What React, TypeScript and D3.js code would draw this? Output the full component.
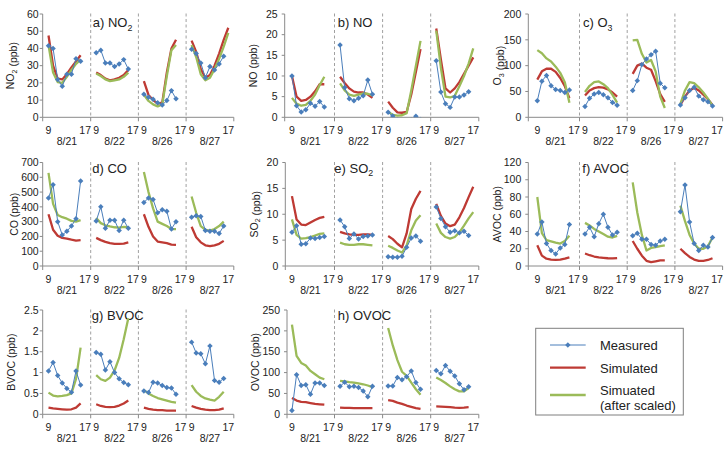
import React from "react";
import * as d3 from "d3";

const days = ["8/21", "8/22", "8/26", "8/27"];
const startHour = 9;
const hourTicks = [9, 17];

// NO2 (ppb), one row per day, hourly from 9:00
const no2Measured = [
  [41.5, 40, 22, 18, 25, 25, 34, 32.5],
  [37.5, 39, 31.5, 31.5, 29.5, 31, 33.5, 28],
  [13.4, 11.6, 10.5, 8.5, 7.2, 9.7, 15.5, 10.8],
  [39.5, 37, 31.5, 23, 29.5, 27.5, 31, 35.5],
];
const no2Simulated = [
  [47.5, 30, 22.5, 22, 25, 29, 32.5, 36],
  [26, 24.5, 22.5, 21.5, 22, 23, 24.5, 27.5],
  [21, 13, 10, 8, 8.5, 26, 40, 45],
  [44.5, 38, 28, 23, 24.5, 30, 37, 45, 52],
];
const no2Scaled = [
  [42, 26, 20.5, 20, 23.5, 27.5, 31, 33.5],
  [25.5, 24, 22, 21, 21.5, 22, 23.5, 26],
  [13, 9.5, 7.5, 6.3, 7.5, 24, 39, 42],
  [42, 35, 25, 21.5, 23, 28, 34, 41, 49],
];

// NO (ppb)
const noMeasured = [
  [10, 2.8, 1.3, 1.8, 3.4, 2.7, 3.8, 2.5],
  [17.5, 7.2, 4.5, 4, 4.6, 5.2, 9, 5.6],
  [1.2, 0.3, -0.6, -0.8, -0.8, -0.6, 0.25, -0.5],
  [13.7, 6.1, 3.3, 2.4, 4.9, 4.9, 5.4, 6.2],
];
const noSimulated = [
  [10, 5, 4, 4.2, 5, 6.3, 8, 8],
  [9.8, 8.3, 7, 6.2, 6, 6, 5.5, 4.7],
  [3.8, 2.3, 1.2, 1.1, 1.3, 5.5, 11, 16.5],
  [21.5, 14, 7, 6, 7, 8.5, 10.5, 12.5, 14.5],
];
const noScaled = [
  [4.7, 3.3, 2.8, 3, 4, 5.5, 7.8, 9.8],
  [8.2, 6.5, 5.5, 5.2, 5.5, 5.8, 5.7, 5.3],
  [1.3, 0.6, 0.4, 0.5, 1, 6.5, 12.5, 18.5],
  [21, 12, 5, 4.8, 5.2, 7.5, 10, 13, 16.7],
];

// O3 (ppb)
const o3Measured = [
  [32, 70, 81, 61, 54, 52, 48, 53],
  [21, 37, 45, 48, 43.5, 38, 28.5, 23.5],
  [52, 71, 102, 113, 121, 128, 66, 57],
  [24, 38, 52, 58, 41, 34, 30, 22],
];
const o3Simulated = [
  [73, 89, 94, 94, 88, 76, 60, 37],
  [42, 52, 56.5, 58.5, 57.5, 54, 48, 40],
  [84, 100, 104, 96, 92, 70, 45, 30],
  [24, 40, 52, 57, 52, 44, 35, 24],
];
const o3Scaled = [
  [130, 124, 114, 108, 98, 86, 68, 28],
  [49, 61, 68, 69.5, 64, 56.5, 43.5, 28.5],
  [149, 150, 123, 106, 111, 89, 40, 18],
  [26, 52, 68, 66, 58, 48, 36, 22],
];

// CO (ppb)
const coMeasured = [
  [460, 550, 300, 210, 235, 270, 320, 575],
  [305, 400, 255, 310, 310, 240, 310, 255],
  [430, 460, 450, 360, 380, 370, 250, 300],
  [330, 340, 335, 240, 235, 235, 220, 270],
];
const coSimulated = [
  [350, 245, 205, 190, 185, 178, 172, 175],
  [190, 175, 163, 155, 150, 150, 152, 160],
  [350, 265, 200, 165, 160, 155, 145, 143],
  [265, 195, 160, 140, 135, 140, 150, 170],
];
const coScaled = [
  [630, 420, 345, 330, 320, 305, 300, 310],
  [325, 290, 275, 268, 262, 260, 265, 262],
  [635, 500, 390, 300, 285, 270, 250, 250],
  [470, 360, 270, 245, 240, 250, 270, 300],
];

// SO2 (ppb)
const so2Measured = [
  [6.5, 7.8, 4.2, 4.3, 5.4, 5.3, 5.5, 5.7],
  [8.9, 7.6, 5.3, 6.2, 5.2, 5.7, 5.8, 6.0],
  [1.8, 1.7, 1.7, 1.9, 3.6, 5.4, 5.8, 4.8],
  [11.4, 9.2, 7.6, 6.5, 6.8, 6.4, 6.7, 5.9],
];
const so2Simulated = [
  [13.5, 9, 8, 7.9, 8.4, 8.9, 9.3, 9.5],
  [6.6, 6.3, 6.1, 6.0, 6.0, 6.1, 6.1, 6.0],
  [5.8, 5.2, 4.3, 3.6, 6.3, 11, 13, 14.5],
  [12, 9.7, 8.2, 7.7, 8, 9.4, 11.2, 13.3, 15.3],
];
const so2Scaled = [
  [9, 6, 5.3, 5.4, 5.6, 5.9, 6.2, 6.3],
  [4.5, 4.2, 4.1, 4.1, 4.2, 4.2, 4.1, 4.0],
  [3.9, 3.5, 3.0, 2.6, 4.0, 6.9, 8.8, 9.8],
  [8.2, 6.4, 5.6, 5.3, 5.6, 6.5, 7.8, 9.2, 10.4],
];

// AVOC (ppb)
const avocMeasured = [
  [37, 51, 26, 18, 14, 21, 25, 48],
  [37, 45, 34, 49, 60, 45, 36, 39],
  [35, 38, 31, 31, 25, 24, 29, 31],
  [63, 94, 51, 26, 18, 24, 22, 33],
];
const avocSimulated = [
  [24, 12, 8.5, 7.5, 7, 7.5, 8.5, 10],
  [14.5, 12.5, 11, 10, 9.5, 9, 8.8, 9.2],
  [29, 20, 12, 6, 4.5, 5.5, 6.5, 6.5],
  [20, 15, 10.5, 7.5, 6, 6, 7, 9],
];
const avocScaled = [
  [80, 38, 30, 28.5, 27, 26, 29, 35],
  [50, 47, 43, 40, 37, 34, 33, 35],
  [97, 62, 36, 18, 21, 22, 23, 24],
  [70, 52, 36, 26, 20, 20, 23, 33],
];

// BVOC (ppb)
const bvocMeasured = [
  [1.04, 1.24, 0.93, 0.75, 0.62, 0.53, 1.04, 0.7],
  [1.48, 1.44, 1.06, 1.26, 1.0, 0.85, 0.76, 0.71],
  [0.56, 0.52, 0.77, 0.75, 0.69, 0.64, 0.63, 0.48],
  [1.73, 1.47, 1.45, 1.21, 1.64, 0.81, 0.77, 0.86],
];
const bvocSimulated = [
  [0.16, 0.14, 0.13, 0.12, 0.11, 0.12, 0.16, 0.26],
  [0.24, 0.2, 0.18, 0.17, 0.18, 0.21, 0.26, 0.33],
  [0.16, 0.13, 0.11, 0.1, 0.1, 0.09, 0.09, 0.09],
  [0.2, 0.16, 0.13, 0.11, 0.1, 0.1, 0.11, 0.14],
];
const bvocScaled = [
  [0.52, 0.45, 0.43, 0.44, 0.46, 0.5, 0.85, 1.6],
  [0.94, 0.84, 0.8, 0.88, 1.05, 1.35, 1.8, 2.3],
  [0.58, 0.5, 0.44, 0.39, 0.36, 0.33, 0.3, 0.28],
  [0.7, 0.54, 0.44, 0.38, 0.35, 0.33, 0.42, 0.54],
];

// OVOC (ppb)
const ovocMeasured = [
  [9, 95, 69, 71, 48, 75, 75, 69],
  [67, 77, 66, 67, 64, 56, 42, 67],
  [68, 68, 88, 83, 90, 104, 76, 60],
  [105, 97, 117, 103, 92, 73, 59, 66],
];
const ovocSimulated = [
  [39, 33, 30, 29, 27, 25, 24, 23],
  [16, 15.5, 15.5, 15, 15, 15, 15, 15],
  [34, 32, 28, 25, 21, 18, 15, 13],
  [19, 18.5, 18, 17, 16, 15.5, 16, 17],
];
const ovocScaled = [
  [215, 140, 123, 117, 104, 96, 88, 84],
  [80, 79, 77, 76, 74, 72, 69, 65],
  [207, 165, 130, 102, 92, 76, 60, 47],
  [88, 82, 75, 67, 60, 55, 55, 63],
];

const legendLabels = ["Measured", "Simulated", "Simuated", "(after scaled)"];

const BLUE = "#4a7ebb";
const RED = "#be3a34";
const GREEN = "#9bbb59";
const AXIS = "#8a8a8a";
const INK = "#222";
const FONT = "'Liberation Sans', Arial, sans-serif";

const ROWS = [
  { top: 14, bottom: 117.3, titleY: 27 },
  { top: 162.5, bottom: 266, titleY: 172.5 },
  { top: 310, bottom: 414.3, titleY: 320 },
];
const COLS = [
  { dash1: 90.7, w: 47.7, tickPad: 4 },
  { dash1: 334.5, w: 48.1, tickPad: 7 },
  { dash1: 579.5, w: 47.7, tickPad: 7 },
];

type Panel = {
  tag: string;
  gas: string;
  sub?: string;
  max: number;
  step: number;
  measured: number[][];
  simulated: number[][];
  scaled: number[][];
  row: number;
  col: number;
  axisX: number;
  titleX: number;
  labelX: number;
};

const panels: Panel[] = [
  { tag: "a", gas: "NO", sub: "2", max: 60, step: 10, measured: no2Measured, simulated: no2Simulated, scaled: no2Scaled, row: 0, col: 0, axisX: 42.7, titleX: 92.7, labelX: 14 },
  { tag: "b", gas: "NO", max: 25, step: 5, measured: noMeasured, simulated: noSimulated, scaled: noScaled, row: 0, col: 1, axisX: 284.7, titleX: 337.7, labelX: 257 },
  { tag: "c", gas: "O", sub: "3", max: 200, step: 50, measured: o3Measured, simulated: o3Simulated, scaled: o3Scaled, row: 0, col: 2, axisX: 528.3, titleX: 583, labelX: 501 },
  { tag: "d", gas: "CO", max: 700, step: 100, measured: coMeasured, simulated: coSimulated, scaled: coScaled, row: 1, col: 0, axisX: 42.7, titleX: 92.3, labelX: 18 },
  { tag: "e", gas: "SO", sub: "2", max: 20, step: 5, measured: so2Measured, simulated: so2Simulated, scaled: so2Scaled, row: 1, col: 1, axisX: 285.3, titleX: 334.3, labelX: 257.5 },
  { tag: "f", gas: "AVOC", max: 120, step: 20, measured: avocMeasured, simulated: avocSimulated, scaled: avocScaled, row: 1, col: 2, axisX: 528.3, titleX: 582.3, labelX: 501 },
  { tag: "g", gas: "BVOC", max: 2.5, step: 0.5, measured: bvocMeasured, simulated: bvocSimulated, scaled: bvocScaled, row: 2, col: 0, axisX: 42.7, titleX: 91.7, labelX: 15 },
  { tag: "h", gas: "OVOC", max: 250, step: 50, measured: ovocMeasured, simulated: ovocSimulated, scaled: ovocScaled, row: 2, col: 1, axisX: 287, titleX: 337.7, labelX: 258.5 },
];

const fmt = d3.format("~g");
const diamond = d3.symbol(d3.symbolSquare, 15)() as string;

function GasName({ gas, sub, size }: { gas: string; sub?: string; size: number }) {
  if (!sub) return <tspan>{gas}</tspan>;
  return (
    <>
      <tspan>{gas}</tspan>
      <tspan fontSize={size * 0.68} dy={size * 0.28}>{sub}</tspan>
      <tspan dy={-size * 0.28}>{""}</tspan>
    </>
  );
}

function PanelView({ p }: { p: Panel }) {
  const r = ROWS[p.row];
  const c = COLS[p.col];
  const y = d3.scaleLinear().domain([0, p.max]).range([r.bottom, r.top]);
  const segStart = days.map((_, i) => c.dash1 + (i - 1) * c.w);
  const xs = segStart.map((s) => d3.scaleLinear().domain([7.8, 18.2]).range([s, s + c.w]));
  const endX = segStart[3] + c.w;
  const ticks = d3.range(0, p.max + p.step / 2, p.step);
  const clipId = `clip-${p.tag}`;

  const path = (vals: number[], i: number) =>
    d3.line<number>().x((_, k) => xs[i](startHour + k)).y((v) => y(v))(vals) as string;

  const midY = (r.top + r.bottom) / 2;

  return (
    <g>
      <defs>
        <clipPath id={clipId}>
          <rect x={p.axisX} y={r.top - 10} width={endX - p.axisX + 6} height={r.bottom - r.top + 10} />
        </clipPath>
      </defs>

      {/* day separators */}
      {segStart.slice(1).map((x, i) => (
        <line key={i} x1={x} x2={x} y1={r.top - 0.5} y2={r.bottom} stroke="#a0a0a0" strokeWidth={1} strokeDasharray="3,2.5" />
      ))}

      {/* y axis */}
      <line x1={p.axisX} x2={p.axisX} y1={r.top} y2={r.bottom} stroke={AXIS} />
      {ticks.map((t) => (
        <g key={t}>
          <line x1={p.axisX - 3} x2={p.axisX} y1={y(t)} y2={y(t)} stroke={AXIS} />
          <text x={p.axisX - c.tickPad} y={y(t)} dy="0.35em" textAnchor="end" fontSize={10.5} fill={INK}>
            {fmt(t)}
          </text>
        </g>
      ))}

      {/* x axis */}
      <line x1={p.axisX} x2={endX} y1={r.bottom} y2={r.bottom} stroke={AXIS} />
      {[p.axisX, ...segStart.slice(1), endX].map((x, i) => (
        <line key={i} x1={x} x2={x} y1={r.bottom} y2={r.bottom + 4} stroke={AXIS} />
      ))}
      {days.map((d, i) => (
        <g key={d}>
          {hourTicks.map((h) => (
            <text key={h} x={xs[i](h)} y={r.bottom + 16.5} textAnchor="middle" fontSize={10.5} fill={INK}>
              {h}
            </text>
          ))}
          <text x={segStart[i] + c.w / 2} y={r.bottom + 27.5} textAnchor="middle" fontSize={10.5} fill={INK}>
            {d}
          </text>
        </g>
      ))}

      {/* axis title */}
      <text transform={`translate(${p.labelX},${midY}) rotate(-90)`} textAnchor="middle" fontSize={10.5} fill={INK}>
        <GasName gas={p.gas} sub={p.sub} size={10.5} />
        <tspan> (ppb)</tspan>
      </text>

      {/* panel title */}
      <text x={p.titleX} y={r.titleY} fontSize={13} fill={INK}>
        <tspan>{p.tag}) </tspan>
        <GasName gas={p.gas} sub={p.sub} size={13} />
      </text>

      <g clipPath={`url(#${clipId})`}>
        {p.simulated.map((vals, i) => (
          <path key={`s${i}`} d={path(vals, i)} fill="none" stroke={RED} strokeWidth={2.3} strokeLinejoin="round" />
        ))}
        {p.scaled.map((vals, i) => (
          <path key={`g${i}`} d={path(vals, i)} fill="none" stroke={GREEN} strokeWidth={2.3} strokeLinejoin="round" />
        ))}
        {p.measured.map((vals, i) => (
          <g key={`m${i}`}>
            <path d={path(vals, i)} fill="none" stroke={BLUE} strokeWidth={1} />
            {vals.map((v, k) => (
              <path
                key={k}
                d={diamond}
                transform={`translate(${xs[i](startHour + k)},${y(v)}) rotate(45)`}
                fill={BLUE}
              />
            ))}
          </g>
        ))}
      </g>
    </g>
  );
}

function Legend() {
  const box = { x: 535.7, y: 328.3, w: 147.6, h: 86.7 };
  const lineX = [550, 585.7];
  const textX = 600;
  return (
    <g>
      <rect x={box.x} y={box.y} width={box.w} height={box.h} fill="#fff" stroke="#7f7f7f" strokeWidth={1} />
      <line x1={lineX[0]} x2={lineX[1]} y1={345} y2={345} stroke={BLUE} strokeWidth={1} />
      <path d={diamond} transform={`translate(${(lineX[0] + lineX[1]) / 2},345) rotate(45)`} fill={BLUE} />
      <line x1={lineX[0]} x2={lineX[1]} y1={367.7} y2={367.7} stroke={RED} strokeWidth={2.3} />
      <line x1={lineX[0]} x2={lineX[1]} y1={395} y2={395} stroke={GREEN} strokeWidth={2.3} />
      <text x={textX} y={350} fontSize={13} fill={INK}>{legendLabels[0]}</text>
      <text x={textX} y={372.5} fontSize={13} fill={INK}>{legendLabels[1]}</text>
      <text x={textX} y={395} fontSize={13} fill={INK}>{legendLabels[2]}</text>
      <text x={textX} y={410} fontSize={13} fill={INK}>{legendLabels[3]}</text>
    </g>
  );
}

export default function App() {
  return (
    <svg
      width={726}
      height={450}
      style={{ position: "absolute", left: 0, top: 0, background: "#fff" }}
      fontFamily={FONT}
    >
      {panels.map((p) => (
        <PanelView key={p.tag} p={p} />
      ))}
      <Legend />
    </svg>
  );
}
